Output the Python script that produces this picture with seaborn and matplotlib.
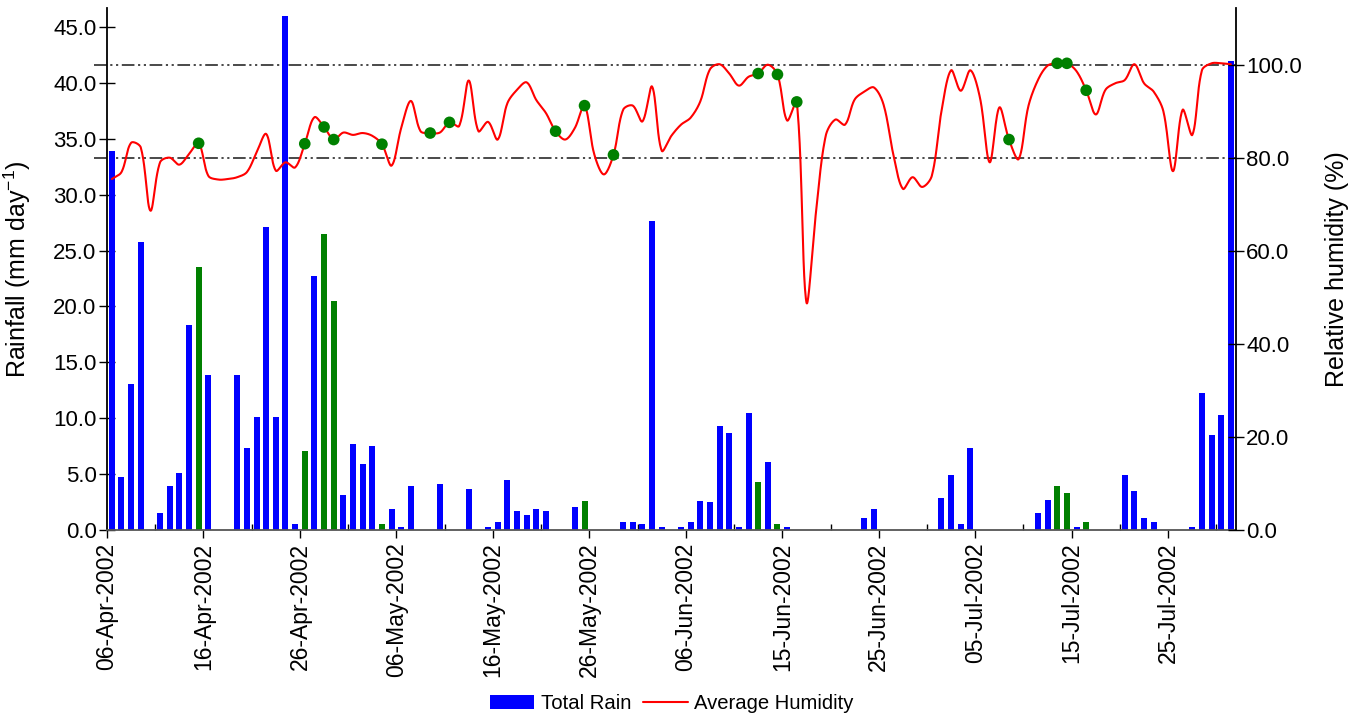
import numpy as np
import pandas as pd
import matplotlib
matplotlib.use("Agg")
import matplotlib.pyplot as plt
import seaborn as sns
from matplotlib.lines import Line2D
from matplotlib.patches import Patch
from matplotlib.ticker import FixedLocator

# ---------------- data ----------------
# daily values, 06-Apr-2002 .. 31-Jul-2002 (117 days)
rain = [33.9, 4.7, 13.1, 25.8, 0.0, 1.5, 3.9, 5.1, 18.3, 23.5,
        13.9, 0.0, 0.0, 13.9, 7.3, 10.1, 27.1, 10.1, 46.0, 0.5,
        7.1, 22.7, 26.5, 20.5, 3.1, 7.7, 5.9, 7.5, 0.5, 1.9,
        0.3, 3.9, 0.0, 0.0, 4.1, 0.0, 0.0, 3.7, 0.0, 0.3,
        0.7, 4.5, 1.7, 1.3, 1.9, 1.7, 0.0, 0.0, 2.1, 2.6,
        0.0, 0.0, 0.0, 0.7, 0.7, 0.5, 27.6, 0.3, 0.0, 0.3,
        0.7, 2.6, 2.5, 9.3, 8.7, 0.3, 10.5, 4.3, 6.1, 0.5,
        0.3, 0.0, 0.0, 0.0, 0.0, 0.0, 0.0, 0.0, 1.1, 1.9,
        0.0, 0.0, 0.0, 0.0, 0.0, 0.0, 2.9, 4.9, 0.5, 7.3,
        0.0, 0.0, 0.0, 0.0, 0.0, 0.0, 1.5, 2.7, 3.9, 3.3,
        0.3, 0.7, 0.0, 0.0, 0.0, 4.9, 3.5, 1.1, 0.7, 0.0,
        0.0, 0.0, 0.3, 12.3, 8.5, 10.3, 42.0]

humidity = [75.5, 77.0, 83.3, 82.3, 68.7, 79.1, 80.1, 78.6, 80.9, 83.2,
            76.2, 75.4, 75.5, 75.9, 77.0, 81.2, 85.2, 77.3, 79.1, 78.0,
            83.1, 88.8, 86.7, 84.0, 85.5, 85.0, 85.4, 84.8, 83.0, 78.4,
            86.5, 92.3, 85.8, 85.4, 85.5, 87.7, 86.9, 96.7, 85.8, 87.8,
            84.0, 91.8, 94.7, 96.3, 92.5, 89.7, 85.8, 84.0, 86.5, 91.3,
            80.9, 76.5, 80.7, 90.4, 91.3, 87.9, 95.4, 81.6, 84.8, 87.2,
            88.7, 92.2, 99.1, 100.2, 98.2, 95.6, 97.5, 98.2, 100.1, 98.0,
            88.1, 92.1, 49.0, 68.5, 84.8, 88.3, 87.2, 92.6, 94.3, 95.2,
            91.5, 80.9, 73.4, 75.9, 73.8, 76.2, 90.1, 98.9, 94.5, 98.9,
            92.9, 79.1, 90.9, 84.0, 79.8, 91.1, 96.8, 99.9, 100.4, 100.4,
            98.7, 94.6, 89.4, 94.7, 96.1, 96.8, 100.2, 96.1, 94.3, 90.1,
            77.2, 90.4, 85.0, 98.9, 100.4, 100.4, 100.2]

green_bar_days = [9, 20, 22, 23, 28, 49, 67, 69, 98, 99, 101]
dot_days = [9, 20, 22, 23, 28, 33, 35, 46, 49, 52, 67, 69, 71, 93, 98, 99, 101]

tick_days = [0, 10, 20, 30, 40, 50, 60, 70, 80, 90, 100, 110]
tick_labels = ["06-Apr-2002", "16-Apr-2002", "26-Apr-2002", "06-May-2002",
               "16-May-2002", "26-May-2002", "06-Jun-2002", "15-Jun-2002",
               "25-Jun-2002", "05-Jul-2002", "15-Jul-2002", "25-Jul-2002"]
ref_levels = [100.0, 80.0]

BLUE, GREEN, RED = "#0000FF", "#008000", "#FF0000"

# ---------------- style ----------------
sns.set_theme(style="ticks")
plt.rcParams["font.family"] = ["Liberation Sans", "DejaVu Sans"]
plt.rcParams["mathtext.fontset"] = "custom"
plt.rcParams["mathtext.rm"] = "Liberation Sans"
plt.rcParams["axes.edgecolor"] = "black"
plt.rcParams["axes.labelcolor"] = "black"
plt.rcParams["text.color"] = "black"
plt.rcParams["xtick.color"] = "black"
plt.rcParams["ytick.color"] = "black"

n = len(rain)
day = np.arange(n)
xpos = day + 0.5
kind = ["green" if d in green_bar_days else "total" for d in day]
df = pd.DataFrame({"x": xpos, "rain": rain, "kind": kind})


def smooth_curve(x, y, sx=9.645, sy=4.65, steps=24):
    """Spreadsheet-style smoothed line: cubic Bezier segments whose control
    points follow the neighbouring points, scaled by the segment lengths."""
    px = np.asarray(x, float) * sx
    py = np.asarray(y, float) * sy
    P = np.column_stack([px, py])
    m = len(P)
    t = np.linspace(0, 1, steps, endpoint=False)[:, None]
    out = []
    for k in range(m - 1):
        p0 = P[k - 1] if k > 0 else P[k]
        p1, p2 = P[k], P[k + 1]
        p3 = P[k + 2] if k + 2 < m else P[k + 1]
        d01 = np.linalg.norm(p1 - p0)
        d12 = np.linalg.norm(p2 - p1)
        d23 = np.linalg.norm(p3 - p2)
        f1 = d12 / (d01 + d12) if d01 + d12 > 0 else 0.5
        f2 = d12 / (d12 + d23) if d12 + d23 > 0 else 0.5
        c1 = p1 + (p2 - p0) * f1 / 3.0
        c2 = p2 - (p3 - p1) * f2 / 3.0
        seg = ((1 - t) ** 3) * p1 + 3 * ((1 - t) ** 2) * t * c1 \
            + 3 * (1 - t) * t ** 2 * c2 + t ** 3 * p2
        out.append(seg)
    out.append(P[-1][None, :])
    S = np.vstack(out)
    return S[:, 0] / sx, S[:, 1] / sy


fig = plt.figure(figsize=(13.65, 7.17), dpi=100)
L, R, B, T = 107 / 1365, 1235.7 / 1365, 1 - 530 / 717, 1 - 8 / 717
ax = fig.add_axes([L, B, R - L, T - B])
ax2 = ax.twinx()

# reference lines (behind bars) drawn in humidity units
for lev in ref_levels:
    ax.plot([-1.3, n], [lev, lev], transform=ax2.transData, color="#3a3a3a",
            lw=1.3, linestyle=(0, (7, 2, 1.2, 2, 1.2, 2)), clip_on=False, zorder=0.5)

sns.barplot(data=df, x="x", y="rain", hue="kind", native_scale=True, dodge=False,
            palette={"total": BLUE, "green": GREEN}, width=0.62, saturation=1,
            errorbar=None, legend=False, ax=ax, linewidth=0, zorder=2)

sx_, sy_ = smooth_curve(xpos, humidity)
sns.lineplot(x=sx_, y=sy_, ax=ax2, color=RED, lw=1.5, sort=False,
             estimator=None, zorder=3)
sns.scatterplot(x=[d + 0.5 for d in dot_days], y=[humidity[d] for d in dot_days],
                ax=ax2, color=GREEN, s=70, edgecolor="none", zorder=4)

ax.set_xlim(0, n)
ax.set_ylim(0, 46.7)
ax2.set_ylim(0, 112.3)

ax.set_yticks(np.arange(0, 46, 5))
ax.set_yticklabels([f"{v:.1f}" for v in np.arange(0, 46, 5)])
ax2.set_yticks(np.arange(0, 101, 20))
ax2.set_yticklabels([f"{v:.1f}" for v in np.arange(0, 101, 20)])

ax.set_xticks(tick_days)
ax.set_xticklabels(tick_labels, rotation=90)
ax.xaxis.set_minor_locator(FixedLocator(list(range(5, n, 10))))

ax.tick_params(axis="x", which="major", direction="out", length=6, width=1,
               labelsize=16.5, pad=3)
ax.tick_params(axis="x", which="minor", direction="in", length=4, width=1)
ax.tick_params(axis="y", direction="inout", length=11, width=1, labelsize=16, pad=2)
ax2.tick_params(axis="y", direction="inout", length=11, width=1, labelsize=16, pad=2)

ax.set_xlabel("")
ax.set_ylabel("Rainfall (mm day$^{\\mathregular{-1}}$)", fontsize=18)
ax.yaxis.set_label_coords(-0.066, 0.5)
ax2.set_ylabel("Relative humidity (%)", fontsize=18)
ax2.yaxis.set_label_coords(1.079, 0.5)

for a in (ax, ax2):
    a.spines["top"].set_visible(False)
    for s in a.spines.values():
        s.set_linewidth(1.3)
ax.spines["right"].set_visible(False)
ax2.spines["left"].set_visible(False)
ax2.spines["bottom"].set_visible(False)
ax.spines["bottom"].set_color("#555555")

handles = [Patch(facecolor=BLUE, edgecolor="none"),
           Line2D([0], [0], color=RED, lw=1.5)]
fig.legend(handles, ["Total Rain", "Average Humidity"], loc="lower center",
           bbox_to_anchor=(0.492, -0.02), ncol=2, frameon=False, fontsize=14.6,
           handlelength=2.2, handleheight=0.7, handletextpad=0.3, columnspacing=0.6,
           labelcolor="black")

fig.savefig("out.png", dpi=100)
